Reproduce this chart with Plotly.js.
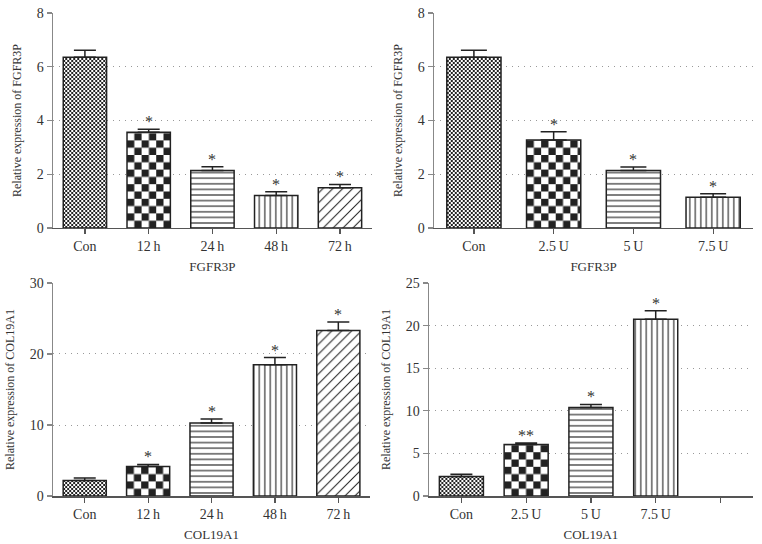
<!DOCTYPE html>
<html>
<head>
<meta charset="utf-8">
<script src="https://cdn.plot.ly/plotly-3.0.1.min.js"></script>
<style>html,body{margin:0;padding:0;background:#fff;}#chart{width:762px;height:544px;}</style>
</head>
<body>
<div id="chart"></div>
<script>
// ---- data ----
const catsTime = ['Con', '12\u2009h', '24\u2009h', '48\u2009h', '72\u2009h'];
const catsDose = ['Con', '2.5\u2009U', '5\u2009U', '7.5\u2009U'];
const catsDoseCol = ['Con', '2.5\u2009U', '5\u2009U', '7.5\u2009U', ' '];

const fgfrTime = [6.35, 3.56, 2.14, 1.21, 1.50];
const fgfrTimeErr = [0.26, 0.11, 0.14, 0.14, 0.12];
const fgfrTimeStars = ['', '*', '*', '*', '*'];

const fgfrDose = [6.35, 3.27, 2.14, 1.14];
const fgfrDoseErr = [0.26, 0.31, 0.13, 0.13];
const fgfrDoseStars = ['', '*', '*', '*'];

const colTime = [2.2, 4.15, 10.3, 18.5, 23.3];
const colTimeErr = [0.35, 0.3, 0.55, 1.0, 1.2];
const colTimeStars = ['', '*', '*', '*', '*'];

const colDose = [2.3, 6.05, 10.4, 20.75, null];
const colDoseErr = [0.25, 0.17, 0.35, 1.0, null];
const colDoseStars = ['', '**', '*', '*', ''];

const yTitles = ['Relative expression of FGFR3P', 'Relative expression of FGFR3P',
                 'Relative expression of COL19A1', 'Relative expression of COL19A1'];
const xTitles = ['FGFR3P', 'FGFR3P', 'COL19A1', 'COL19A1'];

// ---- styles ----
const FONT = 'Liberation Serif, DejaVu Serif, serif';
const INK = '#222';
// pattern style per bar position (Con, 2nd, 3rd, 4th, 5th)
const patterns = [
  {custom: 'fine', size: 4},
  {custom: 'big', size: 14.6},
  {shape: '-', size: 5.6, solidity: 0.2},
  {shape: '|', size: 5.5, solidity: 0.2},
  {shape: '/', size: 7, solidity: 0.15}
];

const traces = [];
const annotations = [];
function addPanel(idx, cats, vals, errs, stars) {
  const xa = idx === 1 ? 'x' : 'x' + idx;
  const ya = idx === 1 ? 'y' : 'y' + idx;
  for (let i = 0; i < cats.length; i++) {
    if (vals[i] === null) {
      traces.push({type: 'bar', x: [cats[i]], y: [null], xaxis: xa, yaxis: ya, showlegend: false, hoverinfo: 'skip'});
      continue;
    }
    const p = patterns[i];
    const marker = {color: '#ffffff', line: {color: INK, width: 1.5}};
    if (!p.custom) {
      marker.pattern = {shape: p.shape, size: p.size, solidity: p.solidity,
                        fgcolor: INK, bgcolor: '#ffffff', fillmode: 'replace', fgopacity: 1};
    }
    traces.push({
      type: 'bar', x: [cats[i]], y: [vals[i]], xaxis: xa, yaxis: ya, showlegend: false,
      meta: p.custom ? p.custom + ':' + p.size : '',
      marker: marker,
      error_y: {type: 'data', symmetric: false, array: [errs[i]], arrayminus: [0],
                color: INK, thickness: 1.5, width: idx === 2 ? 13 : 11}
    });
    if (stars[i]) {
      annotations.push({
        xref: xa, yref: ya, x: cats[i], y: vals[i] + errs[i], text: stars[i],
        showarrow: false, yanchor: 'bottom', yshift: -3,
        font: {family: FONT, size: 16, color: '#333'}
      });
    }
  }
}
addPanel(1, catsTime, fgfrTime, fgfrTimeErr, fgfrTimeStars);
addPanel(2, catsDose, fgfrDose, fgfrDoseErr, fgfrDoseStars);
addPanel(3, catsTime, colTime, colTimeErr, colTimeStars);
addPanel(4, catsDoseCol, colDose, colDoseErr, colDoseStars);

function xAxis(domain, anchor, n, title) {
  return {
    domain: domain, anchor: anchor, type: 'category', range: [-0.5, n - 0.5],
    showline: true, linecolor: '#555', linewidth: 1.5,
    ticks: 'outside', ticklen: 5, tickwidth: 1.2, tickcolor: '#555',
    showgrid: false, zeroline: false, fixedrange: true,
    tickfont: {family: FONT, size: 14, color: '#333'},
    title: {text: title, font: {family: FONT, size: 13, color: '#333'}, standoff: 8}
  };
}
function yAxis(domain, anchor, max, dtick, title) {
  return {
    domain: domain, anchor: anchor, range: [0, max], dtick: dtick, tick0: 0,
    showline: true, linecolor: '#888', linewidth: 1.5,
    ticks: 'outside', ticklen: 5, tickwidth: 1.2, tickcolor: '#888',
    showgrid: true, gridcolor: '#999', griddash: '1px,5px', gridwidth: 1,
    zeroline: false, fixedrange: true,
    tickfont: {family: FONT, size: 14, color: '#333'},
    title: {text: title, font: {family: FONT, size: 12, color: '#333'}, standoff: 12}
  };
}

const layout = {
  width: 762, height: 544,
  margin: {l: 0, r: 0, t: 0, b: 0},
  paper_bgcolor: '#ffffff', plot_bgcolor: '#ffffff',
  barmode: 'overlay', bargap: 0.32,
  font: {family: FONT, color: '#333'},
  annotations: annotations,
  xaxis: xAxis([0.0696, 0.488], 'y', 5, xTitles[0]),
  yaxis: yAxis([0.5809, 0.9761], 'x', 8, 2, yTitles[0]),
  xaxis2: xAxis([0.5696, 0.9882], 'y2', 4, xTitles[1]),
  yaxis2: yAxis([0.5809, 0.9761], 'x2', 8, 2, yTitles[1]),
  xaxis3: xAxis([0.0696, 0.4856], 'y3', 5, xTitles[2]),
  yaxis3: yAxis([0.0882, 0.4798], 'x3', 30, 10, yTitles[2]),
  xaxis4: xAxis([0.563, 0.988], 'y4', 5, xTitles[3]),
  yaxis4: yAxis([0.0882, 0.4798], 'x4', 25, 5, yTitles[3])
};

const gd = document.getElementById('chart');
Plotly.newPlot(gd, traces, layout, {displayModeBar: false, staticPlot: true}).then(function () {
  // checkerboard fills (Plotly has no built-in checkerboard pattern)
  const NS = 'http://www.w3.org/2000/svg';
  const defs = gd.querySelector('svg.main-svg defs');
  let k = 0;
  gd.querySelectorAll('g.trace.bars').forEach(function (g) {
    const cd = g.__data__;
    if (!cd || !cd[0] || !cd[0].trace) return;
    const meta = cd[0].trace.meta;
    if (!meta) return;
    const s = parseFloat(meta.split(':')[1]);
    const h = s / 2;
    g.querySelectorAll('.point path').forEach(function (path) {
      const bb = path.getBBox();
      const id = 'chk' + (k++);
      const pat = document.createElementNS(NS, 'pattern');
      pat.setAttribute('id', id);
      pat.setAttribute('patternUnits', 'userSpaceOnUse');
      pat.setAttribute('width', s);
      pat.setAttribute('height', s);
      pat.setAttribute('x', bb.x);
      pat.setAttribute('y', bb.y + bb.height);
      const rects = [[0, 0, s, s, '#ffffff'], [0, 0, h, h, INK], [h, h, h, h, INK]];
      rects.forEach(function (r) {
        const rc = document.createElementNS(NS, 'rect');
        rc.setAttribute('x', r[0]); rc.setAttribute('y', r[1]);
        rc.setAttribute('width', r[2]); rc.setAttribute('height', r[3]);
        rc.setAttribute('fill', r[4]);
        pat.appendChild(rc);
      });
      defs.appendChild(pat);
      path.style.fill = 'url(#' + id + ')';
    });
  });
});
</script>
</body>
</html>
